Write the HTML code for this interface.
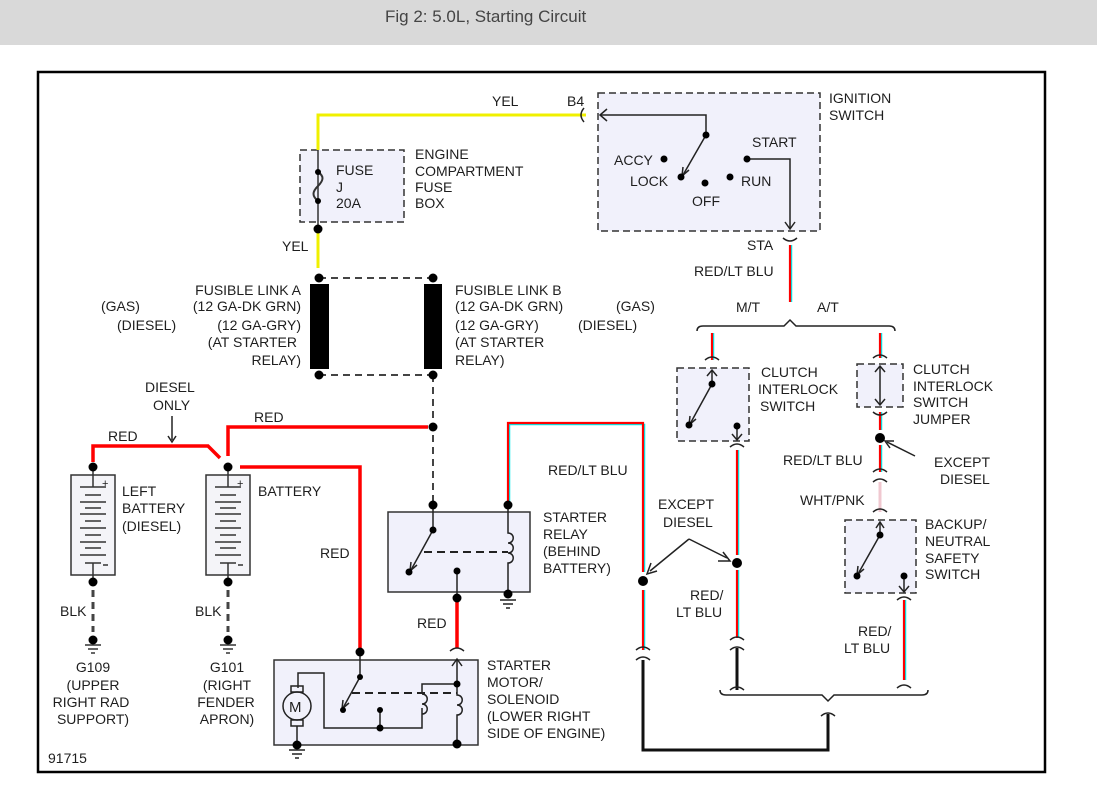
<!DOCTYPE html>
<html><head><meta charset="utf-8"><style>
body{margin:0;background:#fff;width:1097px;height:789px;overflow:hidden}
svg{display:block}
text{font-family:"Liberation Sans",sans-serif;font-size:14px;fill:#1e1e1e}
</style></head><body>
<svg width="1097" height="789" viewBox="0 0 1097 789" xmlns="http://www.w3.org/2000/svg">
<rect x="0" y="0" width="1097" height="45" fill="#d9d9d9"/>
<text x="385" y="22" style="font-size:17px;fill:#444">Fig 2: 5.0L, Starting Circuit</text>
<rect x="38" y="72" width="1007" height="700" fill="#fff" stroke="#000" stroke-width="2.5"/>

<g fill="#f1f1fb" stroke="#333" stroke-width="1.5">
<rect x="300" y="150" width="104" height="72" stroke-dasharray="7,4"/>
<rect x="598" y="93" width="222" height="138" stroke-dasharray="7,4"/>
<rect x="677" y="368" width="72" height="73" stroke-dasharray="7,4"/>
<rect x="857" y="364" width="46" height="43" stroke-dasharray="7,4"/>
<rect x="845" y="520" width="71" height="73" stroke-dasharray="7,4"/>
<rect x="388" y="512" width="142" height="80"/>
<rect x="274" y="660" width="204" height="85"/>
<rect x="71" y="475" width="44" height="100" fill="#f4f4f8"/>
<rect x="206" y="475" width="44" height="100" fill="#f4f4f8"/>
</g>

<g stroke="#f0f000" stroke-width="3" fill="none">
<polyline points="318,150 318,115 586,115"/>
<line x1="318" y1="232" x2="318" y2="268"/>
</g>
<g stroke="#333" stroke-width="1.5" fill="none">
<line x1="318" y1="150" x2="318" y2="229"/>
<path d="M318,172 c6,4 6,8 0,14 c-6,6 -6,10 0,15" stroke-width="2"/>
</g>
<g fill="#000"><circle cx="318" cy="172" r="3"/><circle cx="318" cy="201" r="3"/><circle cx="318" cy="229" r="4.5"/></g>

<g stroke="#444" stroke-width="2" stroke-dasharray="7,5" fill="none">
<line x1="319" y1="278" x2="433" y2="278"/>
<line x1="319" y1="375" x2="433" y2="375"/>
<line x1="433" y1="375" x2="433" y2="505"/>
<line x1="93" y1="590" x2="93" y2="632" stroke-width="3"/>
<line x1="228" y1="590" x2="228" y2="632" stroke-width="3"/>
</g>
<rect x="310" y="284" width="19" height="85" fill="#000"/>
<rect x="424" y="284" width="18" height="85" fill="#000"/>
<g fill="#000"><circle cx="319" cy="278" r="4.5"/><circle cx="433" cy="278" r="4.5"/><circle cx="319" cy="375" r="4.5"/><circle cx="433" cy="375" r="4.5"/><circle cx="433" cy="427" r="4.5"/></g>

<g stroke="#f00" stroke-width="3.5" fill="none">
<polyline points="428,427 228,427 228,456"/>
<polyline points="93,462 93,446 208,446 220,458"/>
<polyline points="240,467 360,467 360,650"/>
<line x1="457" y1="600" x2="457" y2="648"/>
</g>
<g stroke="#0ee" stroke-width="1.5" fill="none">
<polyline points="509.5,505 509.5,424.5 644.5,424.5 644.5,572"/>
<line x1="644.5" y1="590" x2="644.5" y2="650"/>
<line x1="738.5" y1="450" x2="738.5" y2="555"/>
<line x1="738.5" y1="570" x2="738.5" y2="638"/>
<line x1="713.5" y1="333" x2="713.5" y2="360"/>
<line x1="791.5" y1="245" x2="791.5" y2="302"/>
<line x1="881.5" y1="333" x2="881.5" y2="358"/>
<line x1="881.5" y1="412" x2="881.5" y2="430"/>
<line x1="881.5" y1="445" x2="881.5" y2="472"/>
<line x1="905.5" y1="600" x2="905.5" y2="680"/>
</g>
<g stroke="#f00" stroke-width="2.2" fill="none">
<polyline points="508,505 508,423 643,423 643,572"/>
<line x1="643" y1="590" x2="643" y2="650"/>
<line x1="737" y1="450" x2="737" y2="555"/>
<line x1="737" y1="570" x2="737" y2="638"/>
<line x1="712" y1="333" x2="712" y2="360"/>
<line x1="790" y1="245" x2="790" y2="302"/>
<line x1="880" y1="333" x2="880" y2="358"/>
<line x1="880" y1="412" x2="880" y2="430"/>
<line x1="880" y1="445" x2="880" y2="472"/>
<line x1="904" y1="600" x2="904" y2="680"/>
</g>
<line x1="880" y1="482" x2="880" y2="512" stroke="#f0c8d0" stroke-width="3"/>

<g stroke="#111" stroke-width="3" fill="none">
<polyline points="643,660 643,750 828,750 828,714"/>
<line x1="737" y1="648" x2="737" y2="690"/>
</g>

<g stroke="#222" stroke-width="1.5" fill="none">
<path d="M584,108 q-6,7 0,14"/>
<path d="M783,238 q7,6 14,0"/>
<path d="M705,360 q7,-6 14,0"/><path d="M730,447 q7,-6 14,0"/>
<path d="M873,358 q7,-6 14,0"/><path d="M873,412 q7,6 14,0"/>
<path d="M873,472 q7,-6 14,0"/><path d="M873,482 q7,-6 14,0"/>
<path d="M873,512 q7,-6 14,0"/><path d="M897,600 q7,-6 14,0"/>
<path d="M636,650 q7,-6 14,0"/><path d="M636,660 q7,-6 14,0"/>
<path d="M730,640 q7,-6 14,0"/><path d="M730,650 q7,-6 14,0"/>
<path d="M730,690 q7,-6 14,0"/><path d="M897,688 q7,-6 14,0"/>
<path d="M821,716 q7,-6 14,0"/>
<path d="M450,651 q7,-6 14,0"/>
<path d="M697,331 q0,-5 6,-5 L784,326 l6,-6 l6,6 L889,326 q6,0 6,5"/>
<path d="M720,690 q0,5 6,5 L822,695 l6,6 l6,-6 L922,695 q6,0 6,-5"/>
</g>

<g stroke="#222" stroke-width="1.5" fill="none">
<polyline points="600,115 706,115 706,135"/>
<path d="M607,109 L600,115 L607,121"/>
<line x1="706" y1="135" x2="683" y2="175"/>
<path d="M683,167 L682,176 L689,170"/>
<polyline points="747,159 790,159 790,228"/>
<polyline points="785,222 790,229 795,222"/>
</g>
<g fill="#000"><circle cx="706" cy="135" r="3.5"/><circle cx="664" cy="159" r="3.5"/><circle cx="681" cy="177" r="3.5"/><circle cx="705" cy="183" r="3.5"/><circle cx="730" cy="177" r="3.5"/><circle cx="747" cy="159" r="3.5"/></g>

<g stroke="#222" stroke-width="1.5" fill="none">
<line x1="712" y1="370" x2="712" y2="384"/><path d="M707,376 L712,370 L717,376"/>
<line x1="712" y1="384" x2="690" y2="424"/><path d="M690,416 L689,425 L696,419"/>
<line x1="737" y1="426" x2="737" y2="440"/><path d="M732,434 L737,440 L742,434"/>
<line x1="880" y1="367" x2="880" y2="404"/><path d="M875,372 L880,366 L885,372 M875,399 L880,405 L885,399"/>
<line x1="880" y1="522" x2="880" y2="535"/><path d="M876,528 L880,522 L884,528"/>
<line x1="880" y1="535" x2="858" y2="574"/><path d="M858,566 L857,575 L864,569"/>
<line x1="904" y1="576" x2="904" y2="592"/><path d="M899,586 L904,592 L909,586"/>
<line x1="915" y1="456" x2="887" y2="442"/><path d="M890,448 L885,441 L894,441"/>
<path d="M689,539 L650,571 M689,539 L727,558"/>
<path d="M651,563 L647,574 L657,571 M718,561 L730,561 L723,552"/>
<line x1="172" y1="416" x2="172" y2="440"/><path d="M168,436 L172,442 L176,436"/>
</g>
<g fill="#000"><circle cx="712" cy="384" r="3.5"/><circle cx="689" cy="425" r="3.5"/><circle cx="737" cy="426" r="3.5"/><circle cx="880" cy="438" r="5"/><circle cx="880" cy="535" r="3.5"/><circle cx="857" cy="576" r="3.5"/><circle cx="904" cy="576" r="3.5"/><circle cx="643" cy="581" r="5"/><circle cx="737" cy="563" r="5"/></g>

<g stroke="#333" stroke-width="1.5" fill="none">
<path d="M93,467 v20 M80,487 h26 M85,495 h16 M80,502 h26 M85,508 h16 M80,514 h26 M85,521 h16 M80,528 h26 M85,535 h16 M80,542 h26 M85,548 h16 M80,555 h26 M85,563 h16 M93,563 v19 M103,565 h5"/>
<path d="M228,467 v20 M215,487 h26 M220,495 h16 M215,502 h26 M220,508 h16 M215,514 h26 M220,521 h16 M215,528 h26 M220,535 h16 M215,542 h26 M220,548 h16 M215,555 h26 M220,563 h16 M228,563 v19 M238,565 h5"/>
<path d="M85,645 h16 M88,649 h10 M91,653 h4 M220,645 h16 M223,649 h10 M226,653 h4"/>
</g>
<text x="102" y="487" style="font-size:11px">+</text><text x="237" y="487" style="font-size:11px">+</text>
<g fill="#000"><circle cx="93" cy="467" r="4.5"/><circle cx="93" cy="582" r="4.5"/><circle cx="93" cy="640" r="4.5"/><circle cx="228" cy="467" r="4.5"/><circle cx="228" cy="582" r="4.5"/><circle cx="228" cy="640" r="4.5"/></g>

<g stroke="#222" stroke-width="1.5" fill="none">
<line x1="433" y1="505" x2="433" y2="530"/>
<line x1="433" y1="530" x2="411" y2="570"/><path d="M411,562 L410,571 L417,565"/>
<line x1="457" y1="571" x2="457" y2="598"/>
<path d="M508,505 v28 c7,0 7,10 0,10 c7,0 7,10 0,10 c7,0 7,10 0,10 v29"/>
<line x1="424" y1="552" x2="508" y2="552" stroke-dasharray="8,5" stroke-width="2"/>
<path d="M500,600 h16 M503,604 h10 M506,608 h4"/>
</g>
<g fill="#000"><circle cx="433" cy="505" r="4.5"/><circle cx="508" cy="505" r="4.5"/><circle cx="433" cy="530" r="3.5"/><circle cx="409" cy="572" r="3.5"/><circle cx="457" cy="571" r="3.5"/><circle cx="457" cy="598" r="4.5"/><circle cx="508" cy="594" r="4.5"/></g>

<g stroke="#222" stroke-width="1.5" fill="none">
<line x1="360" y1="652" x2="360" y2="677"/>
<line x1="360" y1="677" x2="343" y2="708"/><path d="M343,700 L342,709 L349,703"/>
<polyline points="298,688 298,673 324,673 324,728 380,728 422,728 422,708"/>
<line x1="380" y1="710" x2="380" y2="728"/>
<path d="M422,694 c7,0 7,10 0,10 c7,0 7,10 0,10 M422,694 v-10 h35"/>
<path d="M457,660 v35 c7,0 7,10 0,10 c7,0 7,10 0,10 v29"/>
<polyline points="452,666 457,659 462,666"/>
<line x1="352" y1="693" x2="457" y2="693" stroke-dasharray="8,5" stroke-width="2"/>
<circle cx="297" cy="706" r="14" fill="#f1f1fb"/>
<rect x="291" y="686" width="12" height="6"/><rect x="291" y="720" width="12" height="6"/>
<line x1="297" y1="726" x2="297" y2="745"/>
<path d="M289,750 h16 M292,754 h10 M295,758 h4"/>
</g>
<text x="289" y="712" style="font-size:15px">M</text>
<g fill="#000"><circle cx="360" cy="652" r="4.5"/><circle cx="360" cy="677" r="3"/><circle cx="343" cy="710" r="3"/><circle cx="380" cy="710" r="3"/><circle cx="380" cy="728" r="3.5"/><circle cx="457" cy="684" r="3.5"/><circle cx="457" cy="744" r="4.5"/><circle cx="297" cy="745" r="4.5"/></g>

<text x="492" y="106">YEL</text><text x="567" y="106">B4</text>
<text x="829" y="103">IGNITION</text><text x="829" y="120">SWITCH</text>
<text x="614" y="165">ACCY</text><text x="630" y="186">LOCK</text><text x="692" y="206">OFF</text>
<text x="741" y="186">RUN</text><text x="752" y="147">START</text>
<text x="747" y="250">STA</text><text x="694" y="276">RED/LT BLU</text>
<text x="736" y="312">M/T</text><text x="817" y="312">A/T</text>
<text x="336" y="175">FUSE</text><text x="336" y="192">J</text><text x="336" y="208">20A</text>
<text x="415" y="159">ENGINE</text><text x="415" y="176">COMPARTMENT</text><text x="415" y="192">FUSE</text><text x="415" y="208">BOX</text>
<text x="282" y="251">YEL</text>
<g text-anchor="end"><text x="301" y="295">FUSIBLE LINK A</text><text x="301" y="311">(12 GA-DK GRN)</text><text x="301" y="330">(12 GA-GRY)</text><text x="297" y="347">(AT STARTER</text><text x="301" y="365">RELAY)</text></g>
<text x="101" y="311">(GAS)</text><text x="117" y="330">(DIESEL)</text>
<text x="455" y="295">FUSIBLE LINK B</text><text x="455" y="311">(12 GA-DK GRN)</text><text x="455" y="330">(12 GA-GRY)</text><text x="455" y="347">(AT STARTER</text><text x="455" y="365">RELAY)</text>
<text x="616" y="311">(GAS)</text><text x="578" y="330">(DIESEL)</text>
<text x="145" y="392">DIESEL</text><text x="153" y="410">ONLY</text>
<text x="108" y="441">RED</text><text x="254" y="422">RED</text>
<text x="122" y="496">LEFT</text><text x="122" y="513">BATTERY</text><text x="122" y="531">(DIESEL)</text>
<text x="258" y="496">BATTERY</text><text x="320" y="558">RED</text>
<text x="60" y="616">BLK</text><text x="195" y="616">BLK</text>
<g text-anchor="middle"><text x="93" y="672">G109</text><text x="93" y="690">(UPPER</text><text x="91" y="707">RIGHT RAD</text><text x="93" y="724">SUPPORT)</text>
<text x="227" y="672">G101</text><text x="227" y="690">(RIGHT</text><text x="226" y="707">FENDER</text><text x="227" y="724">APRON)</text></g>
<text x="48" y="763">91715</text>
<text x="543" y="522">STARTER</text><text x="543" y="539">RELAY</text><text x="543" y="556">(BEHIND</text><text x="543" y="573">BATTERY)</text>
<text x="417" y="628">RED</text>
<text x="487" y="670">STARTER</text><text x="487" y="687">MOTOR/</text><text x="487" y="704">SOLENOID</text><text x="487" y="721">(LOWER RIGHT</text><text x="487" y="738">SIDE OF ENGINE)</text>
<text x="548" y="475">RED/LT BLU</text>
<text x="658" y="509">EXCEPT</text><text x="663" y="527">DIESEL</text>
<text x="690" y="600">RED/</text><text x="676" y="617">LT BLU</text>
<text x="761" y="377">CLUTCH</text><text x="758" y="394">INTERLOCK</text><text x="760" y="411">SWITCH</text>
<text x="913" y="374">CLUTCH</text><text x="913" y="391">INTERLOCK</text><text x="913" y="407">SWITCH</text><text x="913" y="424">JUMPER</text>
<text x="783" y="465">RED/LT BLU</text>
<text x="934" y="467">EXCEPT</text><text x="940" y="484">DIESEL</text>
<text x="800" y="505">WHT/PNK</text>
<text x="925" y="529">BACKUP/</text><text x="925" y="546">NEUTRAL</text><text x="925" y="563">SAFETY</text><text x="925" y="579">SWITCH</text>
<text x="858" y="636">RED/</text><text x="844" y="653">LT BLU</text>
</svg>
</body></html>
